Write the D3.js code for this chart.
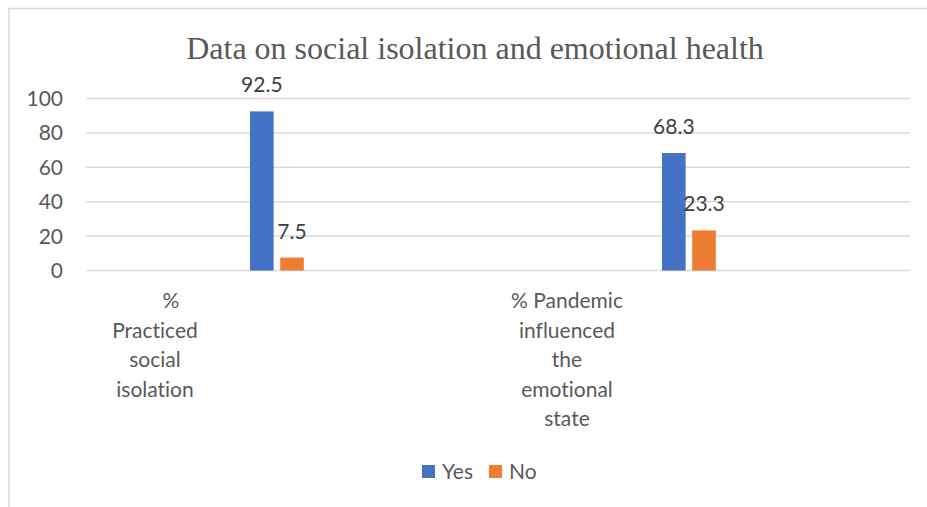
<!DOCTYPE html>
<html>
<head>
<meta charset="utf-8">
<script src="https://cdn.jsdelivr.net/npm/d3@7"></script>
<style>
  body { margin: 0; background: #fff; }
  svg { display: block; }
  text { font-variant-ligatures: none; font-feature-settings: "liga" 0; }
</style>
</head>
<body>
<div id="chart"></div>
<script>
// Chart data
var categories = ["% Practiced social isolation", "% Pandemic influenced the emotional state"];
var categoryLines = [["%", "Practiced", "social", "isolation"], ["% Pandemic", "influenced", "the", "emotional", "state"]];
var seriesNames = ["Yes", "No", ""];
var yesValues = [92.5, 68.3];
var noValues = [7.5, 23.3];
var yTicks = [0, 20, 40, 60, 80, 100];

var width = 927;
var height = 507;
var colors = { "Yes": "#4472C4", "No": "#ED7D31" };
var font = "Lato, 'Open Sans', sans-serif";

var svg = d3.select("#chart").append("svg")
  .attr("width", width)
  .attr("height", height);

// chart frame (right / bottom edges fall outside the picture)
svg.append("rect")
  .attr("x", 9)
  .attr("y", 8.5)
  .attr("width", 940)
  .attr("height", 520)
  .attr("fill", "none")
  .attr("stroke", "#d9d9d9")
  .attr("stroke-width", 1.5);

// title
svg.append("text")
  .attr("x", 475)
  .attr("y", 59)
  .attr("text-anchor", "middle")
  .style("font-family", "'Liberation Serif', 'Times New Roman', serif")
  .style("font-size", "32px")
  .style("fill", "#595959")
  .text("Data on social isolation and emotional health");

// scales
var x = d3.scaleBand()
  .domain(categories)
  .range([86, 910]);

var y = d3.scaleLinear()
  .domain([0, 100])
  .range([270.5, 98.5]);

var xInner = d3.scaleBand()
  .domain(seriesNames)
  .paddingInner(0.217);

// gridlines
svg.append("g")
  .selectAll("line")
  .data(yTicks)
  .enter().append("line")
  .attr("x1", 86)
  .attr("x2", 910)
  .attr("y1", function (d) { return y(d); })
  .attr("y2", function (d) { return y(d); })
  .attr("stroke", "#d9d9d9")
  .attr("stroke-width", 1.5);

// y tick labels
svg.append("g")
  .selectAll("text")
  .data(yTicks)
  .enter().append("text")
  .attr("x", 63)
  .attr("y", function (d) { return y(d); })
  .attr("dy", "0.36em")
  .attr("text-anchor", "end")
  .style("font-family", font)
  .style("font-size", "21px")
  .style("fill", "#595959")
  .text(function (d) { return d; });

// build bar data
var bars = [];
categories.forEach(function (c, i) {
  bars.push({ cat: c, series: "Yes", value: yesValues[i] });
  bars.push({ cat: c, series: "No", value: noValues[i] });
});

function barX(d) {
  var c = x(d.cat) + x.bandwidth() / 2;
  xInner.range([c - 42, c + 42]);
  return xInner(d.series);
}

var g = svg.append("g").selectAll("g")
  .data(bars)
  .enter().append("g");

g.append("rect")
  .attr("x", barX)
  .attr("y", function (d) { return y(d.value); })
  .attr("width", function () { return xInner.bandwidth(); })
  .attr("height", function (d) { return y(0) - y(d.value); })
  .attr("fill", function (d) { return colors[d.series]; });

// data labels
g.append("text")
  .attr("x", function (d) { return barX(d) + xInner.bandwidth() / 2; })
  .attr("y", function (d) { return y(d.value) - 19; })
  .attr("text-anchor", "middle")
  .style("font-family", font)
  .style("font-size", "21px")
  .style("fill", "#404040")
  .text(function (d) { return d.value; });

// category labels (Excel puts them left of the bar groups)
categories.forEach(function (c, i) {
  var cx = x(c) + x.bandwidth() / 2 - 137;
  var t = svg.append("text")
    .attr("text-anchor", "middle")
    .style("font-family", font)
    .style("font-size", "21px")
    .style("fill", "#595959");
  categoryLines[i].forEach(function (line, j) {
    t.append("tspan")
      .attr("x", (i === 0 && j === 0) ? cx + 16 : cx)
      .attr("y", 308 + j * 29.5)
      .text(line);
  });
});

// legend
var legend = svg.append("g")
  .selectAll("g")
  .data(["Yes", "No"])
  .enter().append("g")
  .attr("transform", function (d, i) { return "translate(" + (422 + i * 67) + ",465)"; });

legend.append("rect")
  .attr("width", 13)
  .attr("height", 13)
  .attr("fill", function (d) { return colors[d]; });

legend.append("text")
  .attr("x", 20)
  .attr("y", 14)
  .style("font-family", font)
  .style("font-size", "21px")
  .style("fill", "#595959")
  .text(function (d) { return d; });
</script>
</body>
</html>
